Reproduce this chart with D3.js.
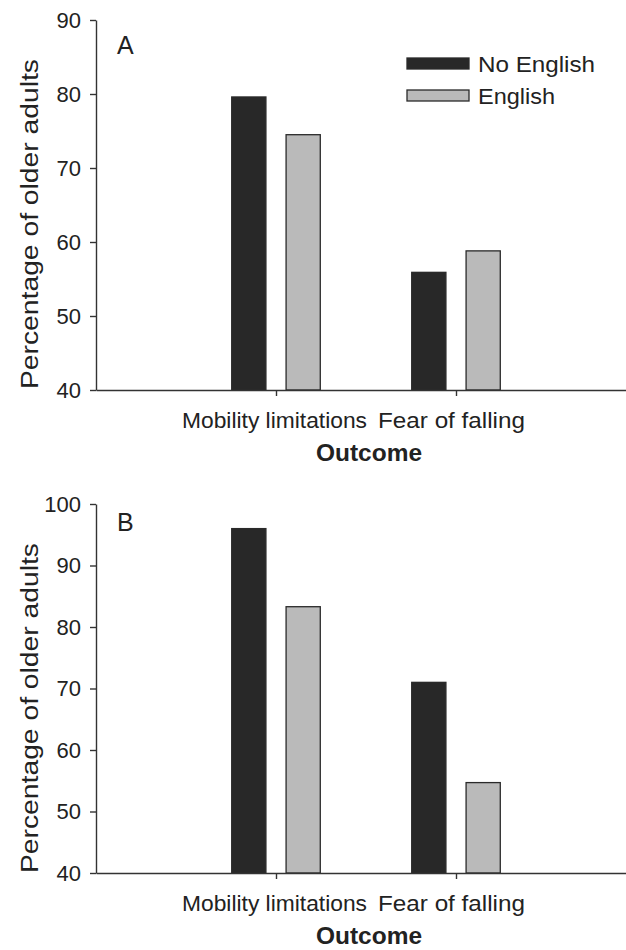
<!DOCTYPE html>
<html>
<head>
<meta charset="utf-8">
<script src="https://cdn.jsdelivr.net/npm/d3@7"></script>
<style>
  body { margin: 0; background: #fff; }
  text { font-family: "Liberation Sans", Arial, sans-serif; fill: #222; }
</style>
</head>
<body>
<div class="container"></div>
<script>
//Width and height
var w = 626;
var h = 950;

// data
var categories = ["Mobility limitations", "Fear of falling"];
var groups = ["No English", "English"];
var groupColors = ["#282828", "#bababa"];

var panelA_noEnglish = [79.6, 55.9];
var panelA_english = [74.5, 58.8];
var panelB_noEnglish = [96.0, 71.0];
var panelB_english = [83.3, 54.7];

var panelA_ticks = [40, 50, 60, 70, 80, 90];
var panelB_ticks = [40, 50, 60, 70, 80, 90, 100];

var svg = d3.select(".container")
    .append("svg")
    .attr("width", w)
    .attr("height", h);

// x positions: categories sit at 1 and 2 on a 0..3 axis
var x = d3.scaleLinear()
    .domain([0, 3])
    .range([96, 636]);

var barW = x(0.19) - x(0);
var barGap = x(0.056) - x(0);

function drawPanel(opt) {
    var y = d3.scaleLinear()
        .domain([opt.ticks[0], opt.ticks[opt.ticks.length - 1]])
        .range([opt.bottom, opt.top]);

    var g = svg.append("g").attr("class", "panel");

    var rows = [];
    for (var i = 0; i < categories.length; i++) {
        rows.push({cat: i + 1, grp: 0, v: opt.series[0][i]});
        rows.push({cat: i + 1, grp: 1, v: opt.series[1][i]});
    }

    g.selectAll(".bar")
        .data(rows)
        .enter()
        .append("rect")
        .attr("class", "bar")
        .attr("x", function(d) {
            return d.grp == 0 ? x(d.cat) - barGap - barW : x(d.cat) + barGap;
        })
        .attr("y", function(d) { return y(d.v); })
        .attr("width", barW)
        .attr("height", function(d) { return y(y.domain()[0]) - y(d.v); })
        .attr("fill", function(d) { return groupColors[d.grp]; })
        .attr("stroke", "#2a2a2a")
        .attr("stroke-width", 1.3);

    // y axis
    var yAxis = g.append("g")
        .attr("transform", "translate(" + x(0) + ",0)")
        .call(d3.axisLeft(y).tickValues(opt.ticks).tickSize(6).tickPadding(9).tickSizeOuter(0));
    yAxis.selectAll("text")
        .style("font-size", "22px")
        .attr("fill", "#222");
    yAxis.selectAll("line, path").attr("stroke", "#333").attr("stroke-width", 1.4);

    // x axis
    var xAxis = g.append("g")
        .attr("transform", "translate(0," + opt.bottom + ")")
        .call(d3.axisBottom(x).tickValues([1, 2]).tickSize(6).tickSizeOuter(0).tickFormat(""));
    xAxis.selectAll("line, path").attr("stroke", "#333").attr("stroke-width", 1.4);

    // category labels
    var labelLen = [185, 147];
    var labelX = [274.5, 451.5];
    g.selectAll(".catlabel")
        .data(categories)
        .enter()
        .append("text")
        .attr("class", "catlabel")
        .attr("x", function(d, i) { return labelX[i]; })
        .attr("y", opt.bottom + 38)
        .attr("text-anchor", "middle")
        .attr("textLength", function(d, i) { return labelLen[i]; })
        .attr("lengthAdjust", "spacingAndGlyphs")
        .style("font-size", "22px")
        .text(function(d) { return d; });

    g.append("text")
        .attr("x", 369)
        .attr("y", opt.bottom + 71)
        .attr("text-anchor", "middle")
        .attr("textLength", 106)
        .attr("lengthAdjust", "spacingAndGlyphs")
        .style("font-size", "23px")
        .style("font-weight", "bold")
        .text("Outcome");

    // y title
    g.append("text")
        .attr("transform", "translate(38," + opt.labelMid + ") rotate(-90)")
        .attr("text-anchor", "middle")
        .attr("textLength", 330)
        .attr("lengthAdjust", "spacingAndGlyphs")
        .style("font-size", "23px")
        .text("Percentage of older adults");

    // panel letter
    g.append("text")
        .attr("x", 117)
        .attr("y", opt.letterY)
        .style("font-size", "25px")
        .text(opt.letter);
}

drawPanel({
    series: [panelA_noEnglish, panelA_english],
    ticks: panelA_ticks,
    top: 20, bottom: 390,
    labelMid: 224, letter: "A", letterY: 54
});

drawPanel({
    series: [panelB_noEnglish, panelB_english],
    ticks: panelB_ticks,
    top: 504, bottom: 873,
    labelMid: 708, letter: "B", letterY: 531
});

// legend (panel A only)
var legend = svg.append("g").attr("class", "key");
var legendY = [58, 90];
var legendLen = [117, 77];

legend.selectAll("rect")
    .data(groups)
    .enter()
    .append("rect")
    .attr("x", 407)
    .attr("y", function(d, i) { return legendY[i]; })
    .attr("width", 62)
    .attr("height", 11)
    .attr("fill", function(d, i) { return groupColors[i]; })
    .attr("stroke", "#2a2a2a")
    .attr("stroke-width", 1.3);

legend.selectAll("text")
    .data(groups)
    .enter()
    .append("text")
    .attr("x", 478)
    .attr("y", function(d, i) { return legendY[i] + 14; })
    .attr("textLength", function(d, i) { return legendLen[i]; })
    .attr("lengthAdjust", "spacingAndGlyphs")
    .style("font-size", "22px")
    .text(function(d) { return d; });
</script>
</body>
</html>
